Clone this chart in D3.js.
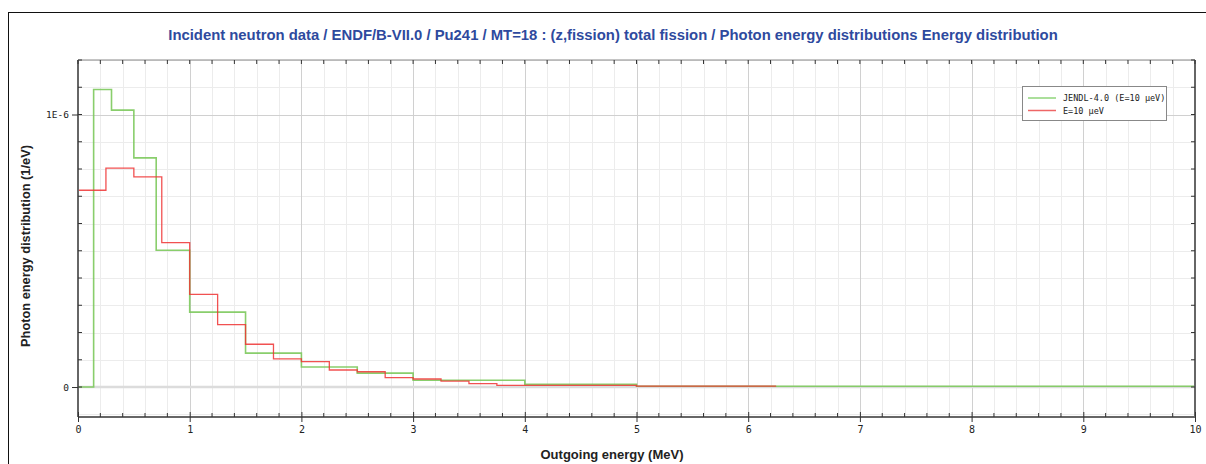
<!DOCTYPE html>
<html>
<head>
<meta charset="utf-8">
<script src="https://cdn.jsdelivr.net/npm/d3@7"></script>
<style>
  html, body { margin: 0; padding: 0; background: #fff; }
  svg { display: block; }
</style>
</head>
<body>
<svg id="chart" width="1206" height="464"></svg>
<script>
// ---- data ----
const titleText = "Incident neutron data / ENDF/B-VII.0 / Pu241 / MT=18 : (z,fission) total fission / Photon energy distributions Energy distribution";
const xLabel = "Outgoing energy (MeV)";
const yLabel = "Photon energy distribution (1/eV)";
const seriesNames = ["JENDL-4.0 (E=10 \u00b5eV)", "E=10 \u00b5eV"];
const xTickValues = [0, 1, 2, 3, 4, 5, 6, 7, 8, 9, 10];
const yTickValues = [0, 1e-6];
const yTickLabels = ["0", "1E-6"];

// JENDL-4.0 histogram: bin edges (MeV) and values (1/eV)
const jendlEdges = [0, 0.14, 0.3, 0.5, 0.7, 1.0, 1.5, 2.0, 2.5, 3.0, 4.0, 5.0, 10.0];
const jendlValues = [0, 1.092e-6, 1.016e-6, 0.841e-6, 0.502e-6, 0.275e-6, 0.1245e-6, 0.0734e-6, 0.051e-6, 0.0246e-6, 0.0099e-6, 0.003e-6];

// ENDF/B-VII.0 histogram
const endfEdges = [0, 0.25, 0.5, 0.75, 1.0, 1.25, 1.5, 1.75, 2.0, 2.25, 2.5, 2.75, 3.0, 3.25, 3.5, 3.75, 5.0, 6.25];
const endfValues = [0.722e-6, 0.803e-6, 0.771e-6, 0.530e-6, 0.340e-6, 0.229e-6, 0.157e-6, 0.103e-6, 0.093e-6, 0.0624e-6, 0.056e-6, 0.0345e-6, 0.0294e-6, 0.022e-6, 0.0125e-6, 0.0062e-6, 0.0035e-6];

// ---- layout ----
const svg = d3.select("#chart");
const L = 78, R = 1195, T = 60, B = 417;
const x = d3.scaleLinear().domain([0, 10]).range([L, R]);
const y = d3.scaleLinear().domain([-0.11e-6, 1.2e-6]).range([B, T]);

// outer frame
svg.append("rect").attr("x", 8.5).attr("y", 12.5).attr("width", 1220).attr("height", 480)
  .attr("fill", "none").attr("stroke", "#111").attr("stroke-width", 1);

// title
svg.append("text").attr("x", 613).attr("y", 40).attr("text-anchor", "middle")
  .attr("font-family", "Liberation Sans, Arial, sans-serif").attr("font-size", 14.85)
  .attr("font-weight", "bold").attr("fill", "#2e4a9e").text(titleText);

// grid
const g = svg.append("g");
const xMinor = d3.range(0, 10.001, 0.2);
const yMinor = d3.range(-1e-7, 1.2e-6 + 1e-12, 1e-7);
g.selectAll("line.xmin").data(xMinor).join("line")
  .attr("x1", d => Math.round(x(d)) + 0.5).attr("x2", d => Math.round(x(d)) + 0.5)
  .attr("y1", T).attr("y2", B).attr("stroke", "#ececec").attr("stroke-width", 1);
g.selectAll("line.ymin").data(yMinor).join("line")
  .attr("y1", d => Math.round(y(d)) + 0.5).attr("y2", d => Math.round(y(d)) + 0.5)
  .attr("x1", L).attr("x2", R).attr("stroke", "#ececec").attr("stroke-width", 1);
g.selectAll("line.xmaj").data(xTickValues).join("line")
  .attr("x1", d => Math.round(x(d)) + 0.5).attr("x2", d => Math.round(x(d)) + 0.5)
  .attr("y1", T).attr("y2", B).attr("stroke", "#d0d0d0").attr("stroke-width", 1);
g.append("line").attr("x1", L).attr("x2", R).attr("y1", Math.round(y(1e-6)) + 0.5).attr("y2", Math.round(y(1e-6)) + 0.5)
  .attr("stroke", "#d0d0d0");
g.append("line").attr("x1", L).attr("x2", R).attr("y1", y(0)).attr("y2", y(0))
  .attr("stroke", "#dcdcdc").attr("stroke-width", 2.5);

// series
function stepPoints(edges, values, startZero) {
  const pts = [];
  if (startZero) pts.push([edges[0], 0]);
  values.forEach((v, i) => pts.push([edges[i], v]));
  pts.push([edges[edges.length - 1], values[values.length - 1]]);
  return pts;
}
const line = d3.line().x(d => x(d[0])).y(d => y(d[1])).curve(d3.curveStepAfter);
const plot = svg.append("g");
plot.append("path").datum(stepPoints(jendlEdges, jendlValues, false)).attr("d", line)
  .attr("fill", "none").attr("stroke", "#7cc95c").attr("stroke-width", 1.6).attr("stroke-opacity", 0.9);
plot.append("path").datum(stepPoints(endfEdges, endfValues, true)).attr("d", line)
  .attr("fill", "none").attr("stroke", "#ee3333").attr("stroke-width", 1.3).attr("stroke-opacity", 0.85);

// axes frame
const axCol = "#666";
const ax = svg.append("g").attr("stroke", axCol);
ax.append("line").attr("x1", L).attr("x2", L).attr("y1", T).attr("y2", B).attr("stroke-width", 2);
ax.append("line").attr("x1", R).attr("x2", R).attr("y1", T).attr("y2", B).attr("stroke-width", 2);
ax.append("line").attr("x1", L).attr("x2", R).attr("y1", B).attr("y2", B).attr("stroke-width", 2);
ax.append("line").attr("x1", L).attr("x2", R).attr("y1", T).attr("y2", T).attr("stroke-width", 1).attr("stroke", "#888");

// x ticks via axis generator (bottom)
const tickFont = "DejaVu Sans Mono, monospace";
const xAxisB = d3.axisBottom(x).tickValues(xTickValues).tickSize(5).tickFormat(d3.format("d"));
const gxb = svg.append("g").attr("transform", `translate(0,${B})`).call(xAxisB);
gxb.select(".domain").remove();
gxb.selectAll("line").attr("stroke", "#333").attr("y1", -5).attr("y2", 5);
gxb.selectAll("text").attr("font-family", tickFont).attr("font-size", 10).attr("fill", "#222").attr("y", 9);
// minor ticks bottom & top
const xMinorOnly = xMinor.filter(d => Math.abs(d - Math.round(d)) > 1e-6);
svg.append("g").selectAll("line").data(xMinorOnly).join("line")
  .attr("x1", d => x(d)).attr("x2", d => x(d)).attr("y1", B - 4).attr("y2", B).attr("stroke", "#333");
svg.append("g").selectAll("line").data(xMinor).join("line")
  .attr("x1", d => x(d)).attr("x2", d => x(d)).attr("y1", T).attr("y2", T + 4).attr("stroke", "#333");

// y ticks (left) via axis generator
const yAxisL = d3.axisLeft(y).tickValues(yTickValues).tickSize(6)
  .tickFormat((d, i) => yTickLabels[i]);
const gyl = svg.append("g").attr("transform", `translate(${L},0)`).call(yAxisL);
gyl.select(".domain").remove();
gyl.selectAll("line").attr("stroke", "#333");
gyl.selectAll("text").attr("font-family", tickFont).attr("font-size", 9.5).attr("fill", "#222");
const yMinorOnly = yMinor.filter(d => d > -0.5e-7);
svg.append("g").selectAll("line").data(yMinorOnly).join("line")
  .attr("x1", L).attr("x2", L + 4).attr("y1", d => y(d)).attr("y2", d => y(d)).attr("stroke", "#333");
svg.append("g").selectAll("line").data(yMinorOnly).join("line")
  .attr("x1", R - 4).attr("x2", R).attr("y1", d => y(d)).attr("y2", d => y(d)).attr("stroke", "#333");

// axis labels
svg.append("text").attr("x", 612).attr("y", 459).attr("text-anchor", "middle")
  .attr("font-family", "Liberation Sans, Arial, sans-serif").attr("font-size", 13).attr("font-weight", "bold")
  .attr("fill", "#222").text(xLabel);
svg.append("text").attr("transform", "translate(30,246) rotate(-90)").attr("text-anchor", "middle")
  .attr("font-family", "Liberation Sans, Arial, sans-serif").attr("font-size", 12.8).attr("font-weight", "bold")
  .attr("fill", "#222").text(yLabel);

// legend
const lg = svg.append("g");
lg.append("rect").attr("x", 1022.5).attr("y", 86.5).attr("width", 144).attr("height", 34)
  .attr("fill", "#fff").attr("stroke", "#888");
const legCols = ["#8fd47a", "#ee6666"];
seriesNames.forEach((n, i) => {
  const yy = 98 + i * 12.5;
  lg.append("line").attr("x1", 1028).attr("x2", 1056).attr("y1", yy).attr("y2", yy)
    .attr("stroke", legCols[i]).attr("stroke-width", 1.5);
  lg.append("text").attr("x", 1063).attr("y", yy + 3).attr("font-family", tickFont)
    .attr("font-size", 8.5).attr("fill", "#222").text(n);
});
</script>
</body>
</html>
